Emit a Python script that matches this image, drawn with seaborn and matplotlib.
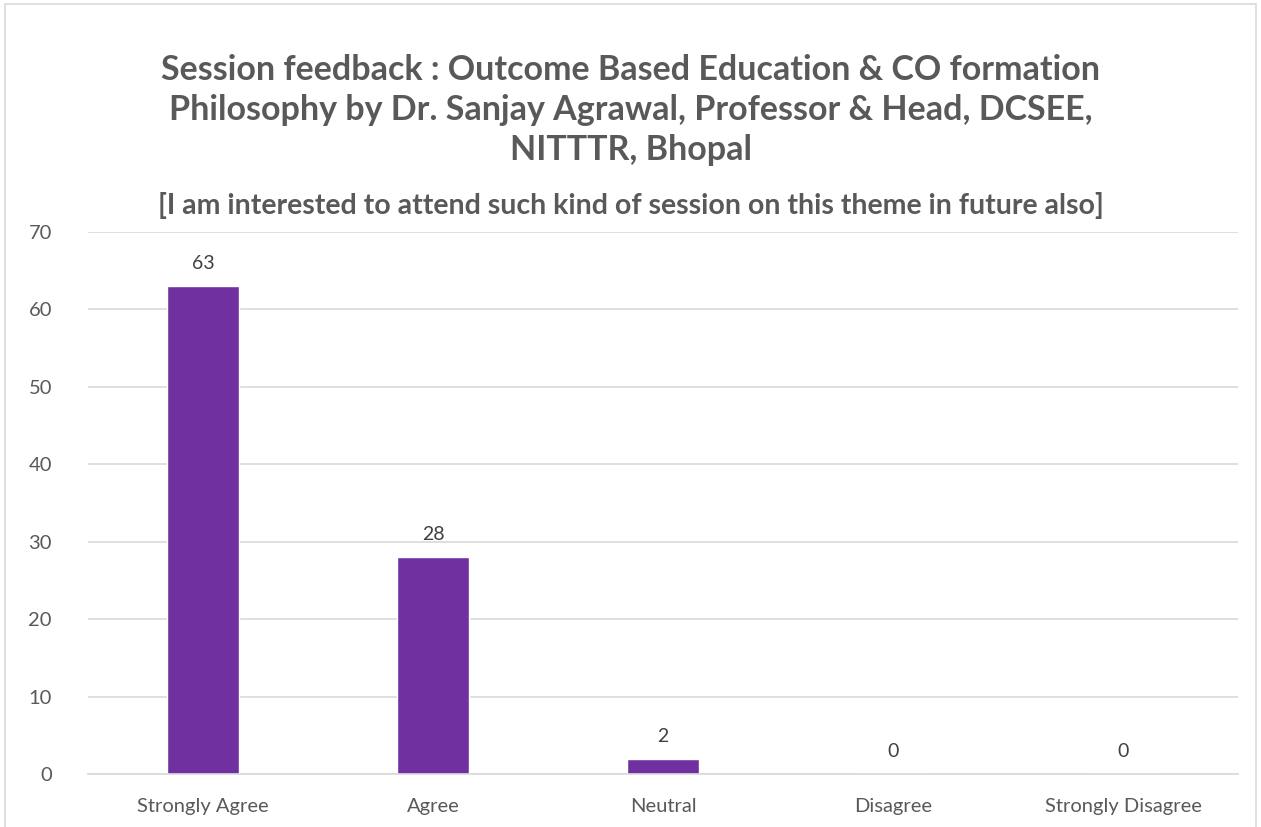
import matplotlib
matplotlib.use("Agg")
import matplotlib.pyplot as plt
import seaborn as sns
import pandas as pd
from matplotlib.patches import Rectangle

# Données du graphique
categories = ["Strongly Agree", "Agree", "Neutral", "Disagree", "Strongly Disagree"]
counts = [63, 28, 2, 0, 0]
y_ticks = [0, 10, 20, 30, 40, 50, 60, 70]

title = ("Session feedback : Outcome Based Education & CO formation\n"
         "Philosophy by Dr. Sanjay Agrawal, Professor & Head, DCSEE,\n"
         "NITTTR, Bhopal")
subtitle = "[I am interested to attend such kind of session on this theme in future also]"

sns.set_theme(style="white")
plt.rcParams["font.family"] = ["Lato", "DejaVu Sans"]

df = pd.DataFrame({"category": categories, "count": counts})

fig = plt.figure(figsize=(12.61, 8.27), dpi=100)
ax = fig.add_axes([0.0698, 0.064, 0.912, 0.6555])

sns.barplot(data=df, x="category", y="count", color="#7030A0",
            width=0.313, saturation=1, ax=ax)

# Étiquettes de valeurs
for p, v in zip(ax.patches, counts):
    ax.annotate(str(v), (p.get_x() + p.get_width() / 2, v),
                xytext=(0, 10), textcoords="offset points",
                ha="center", va="bottom", fontsize=14, color="#404040")

ax.set_ylim(0, 70)
ax.set_yticks(y_ticks)
ax.set_xlim(-0.5, len(categories) - 0.5)
ax.yaxis.grid(True, color="#D9D9D9", linewidth=1.2)
ax.set_axisbelow(True)
for s in ["top", "right", "left"]:
    ax.spines[s].set_visible(False)
ax.spines["bottom"].set_color("#D9D9D9")
ax.spines["bottom"].set_linewidth(1.2)
ax.set_xlabel("")
ax.set_ylabel("")
ax.tick_params(axis="both", length=0, labelsize=14.5, labelcolor="#595959")
ax.tick_params(axis="x", pad=17)
ax.tick_params(axis="y", pad=26)

fig.text(0.5, 0.867, title, ha="center", va="center", fontsize=24.5,
         fontweight="bold", color="#595959", linespacing=1.3)
fig.text(0.5, 0.752, subtitle, ha="center", va="center", fontsize=20.5,
         fontweight="bold", color="#595959")

# Cadre du graphique
fig.patches.append(Rectangle((0.004, -0.01), 0.992, 1.005, transform=fig.transFigure,
                             fill=False, edgecolor="#D9D9D9", linewidth=1.2))

fig.savefig("out.png", dpi=100)
